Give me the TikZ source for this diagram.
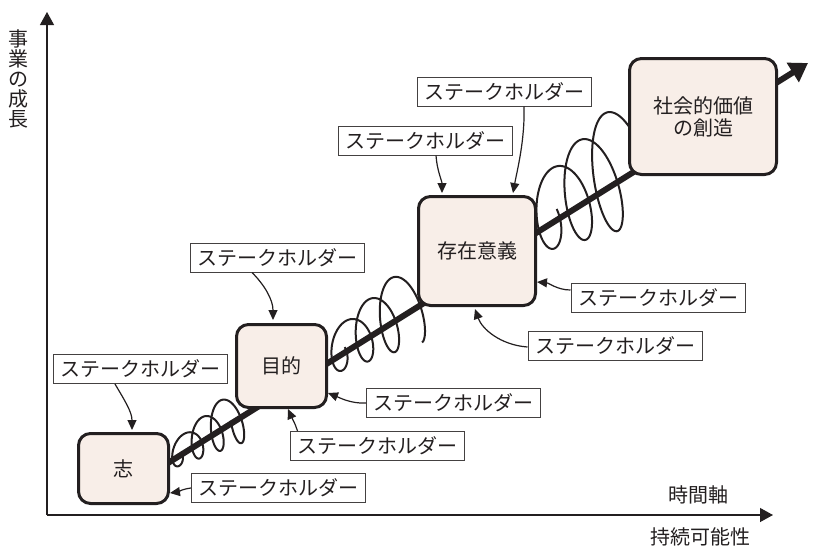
\documentclass[tikz,border=0pt]{standalone}
\usepackage{fontspec}
\setmainfont{Noto Sans CJK JP}
\usetikzlibrary{arrows.meta,calc}
\definecolor{boxfill}{HTML}{F8EEE8}
\definecolor{ink}{HTML}{231F20}
\begin{document}
\begin{tikzpicture}[x=1pt,y=-1pt,
  stage/.style={draw=ink, line width=3pt, fill=boxfill, rounded corners=12pt, text=ink,
    font=\fontsize{20}{22}\selectfont, align=center, inner sep=0pt},
  holder/.style={draw=ink!85, line width=1pt, fill=white, text=ink,
    font=\fontsize{20}{24}\selectfont, minimum width=174pt, minimum height=29pt, inner sep=0pt},
  pointer/.style={line width=1.2pt, draw=ink, -{Triangle[length=10pt,width=9pt]}},
  axis/.style={line width=1.2pt, draw=ink, -{Triangle[length=13pt,width=14pt]}},
  coil/.style={line width=2pt, draw=ink},
  trend/.style={line width=6pt, draw=ink, -{Triangle[length=18pt,width=22pt]}},
  axislabel/.style={text=ink, font=\fontsize{20}{20}\selectfont, inner sep=0pt, align=center}
]
\useasboundingbox (0,0) rectangle (817,547);

% axes
\coordinate (origin) at (47,515);
\coordinate (ytip) at (47,12);
\coordinate (xtip) at (773,515);
\draw[axis] (origin) -- (ytip);
\draw[axis] (origin) -- (xtip);
\node[axislabel] (ylab) at (19,79) {事\\業\\の\\成\\長};
\node[axislabel] (tlab) at (698,495) {時間軸};
\node[axislabel] (slab) at (700,537) {持続可能性};

% coils
\foreach \sa/\nn/\pp/\ra/\rb/\cc/\ww/\kk in {4/3.5/23/10/26/3/11/0.3, 194/3.25/29/17/37/5/15/0.3, 442/3/34/30/58/10/20/0.3}{
  \pgfmathsetmacro\dmax{\nn*360}
  \draw[coil] plot[variable=\ang, domain=0:\dmax, samples=300, smooth]
   ({170+0.8484*(\sa+\pp*(\ang/360)+\ww*cos(\ang)-\kk*(\ra+(\rb-\ra)*(\ang/\dmax))*sin(\ang))-0.5293*(\cc-(\ra+(\rb-\ra)*(\ang/\dmax))*sin(\ang))},
    {462-0.5293*(\sa+\pp*(\ang/360)+\ww*cos(\ang)-\kk*(\ra+(\rb-\ra)*(\ang/\dmax))*sin(\ang))-0.8484*(\cc-(\ra+(\rb-\ra)*(\ang/\dmax))*sin(\ang))});
}

% trend arrow
\coordinate (m0) at (168,463);
\coordinate (m1) at (808,63);
\draw[trend] (m0) -- (m1);

% stages
\node[stage, minimum width=90pt, minimum height=70pt] (shi) at (123.5,468.5) {志};
\node[stage, minimum width=90pt, minimum height=83pt] (mok) at (281.5,366) {目的};
\node[stage, minimum width=117pt, minimum height=109pt] (son) at (477,251) {存在意義};
\node[stage, minimum width=147pt, minimum height=116pt] (sha) at (703,116.5) {社会的価値\\の創造};

% stakeholders
\node[holder] (l1) at (140,369) {ステークホルダー};
\node[holder] (l2) at (278.5,488) {ステークホルダー};
\node[holder] (l3) at (277,257.5) {ステークホルダー};
\node[holder] (l4) at (453.5,403) {ステークホルダー};
\node[holder] (l5) at (377.5,446) {ステークホルダー};
\node[holder] (l6) at (425.5,140.5) {ステークホルダー};
\node[holder] (l7) at (504,91.5) {ステークホルダー};
\node[holder] (l8) at (658,297.5) {ステークホルダー};
\node[holder] (l9) at (615,346) {ステークホルダー};

% pointers
\draw[pointer] ($(l1.south)+(-25,0)$) .. controls +(10,17) and +(0,-18) .. ($(shi.north)+(8.5,-2)$);
\draw[pointer] ($(l2.west)+(0,0)$) .. controls +(-8,1) and +(7,-1) .. ($(shi.east)+(0,24.5)$);
\draw[pointer] ($(l3.south)+(-25,0)$) .. controls +(13,13) and +(0,-20) .. ($(mok.north)+(-8.5,-3)$);
\draw[pointer] ($(l4.west)+(0,0)$) .. controls +(-15,1) and +(10,4) .. ($(mok.east)+(0,27)$);
\draw[pointer] ($(l5.north)+(-80,0)$) .. controls +(-2,-7) and +(3,7) .. ($(mok.south)+(6.5,0)$);
\draw[pointer] ($(l6.south)+(10.5,0)$) .. controls +(1,15) and +(0,-12) .. ($(son.north)+(-35,-2)$);
\draw[pointer] ($(l7.south)+(20,0)$) .. controls +(1,34) and +(4,-22) .. ($(son.north)+(36,-2)$);
\draw[pointer] ($(l8.west)+(0,-7.5)$) .. controls +(-13,0) and +(12,1) .. ($(son.east)+(0,31)$);
\draw[pointer] ($(l9.west)+(0,1)$) .. controls +(-27,-2) and +(7,20) .. ($(son.south)+(-2,2)$);
\end{tikzpicture}
\end{document}
